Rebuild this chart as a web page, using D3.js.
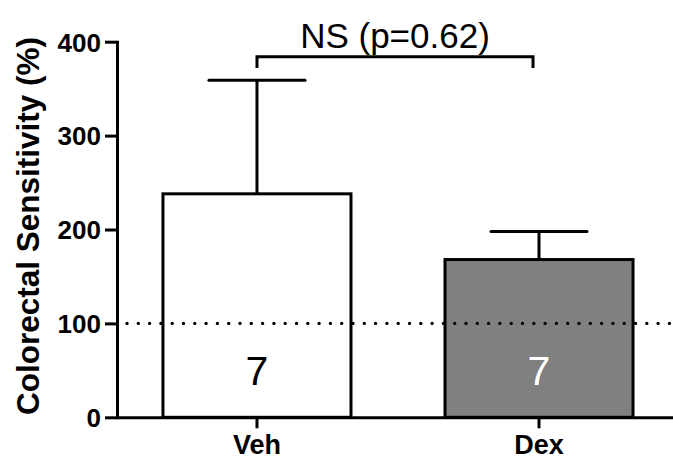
<!DOCTYPE html>
<html>
<head>
<meta charset="utf-8">
<script src="https://cdn.jsdelivr.net/npm/d3@7"></script>
<style>
  html, body { margin: 0; padding: 0; background: #fff; }
  svg { display: block; font-family: "Liberation Sans", Arial, sans-serif; }
</style>
</head>
<body>
<svg id="chart" width="673" height="461"></svg>
<script>
// Group means, SEM and group sizes
const groups = ["Veh", "Dex"];
const means = [238, 168];
const sems = [121, 30];
const counts = [7, 7];
const fills = ["#ffffff", "#808080"];
const countColors = ["#000000", "#ffffff"];
const yTicks = [0, 100, 200, 300, 400];
const baseline = 100;
const compareLabel = "NS (p=0.62)";
const compareLevel = [384, 372];   // bracket bar and leg ends
const yTitle = "Colorectal Sensitivity (%)";

const svg = d3.select("#chart");
const lw = 3;

const y = d3.scaleLinear().domain([0, 400]).range([417.3, 41.7]);
const x = d3.scaleBand().domain(groups).range([117, 679])
  .paddingInner(1 / 3).paddingOuter(0.163);
const cx = g => x(g) + x.bandwidth() / 2;

// Bars
svg.append("g").selectAll("rect").data(groups).join("rect")
  .attr("x", g => x(g))
  .attr("y", (g, i) => y(means[i]))
  .attr("width", x.bandwidth())
  .attr("height", (g, i) => y(0) - y(means[i]))
  .attr("fill", (g, i) => fills[i])
  .attr("stroke", "#000")
  .attr("stroke-width", lw);

// Error bars (upper only)
const eb = svg.append("g").attr("stroke", "#000").attr("stroke-width", lw);
groups.forEach((g, i) => {
  const top = y(means[i] + sems[i]);
  eb.append("line").attr("x1", cx(g)).attr("x2", cx(g))
    .attr("y1", y(means[i])).attr("y2", top);
  eb.append("line").attr("x1", cx(g) - 48).attr("x2", cx(g) + 48)
    .attr("y1", top).attr("y2", top).attr("stroke-linecap", "round");
});

// Reference line at 100%
svg.append("line")
  .attr("x1", 127).attr("x2", 673)
  .attr("y1", y(baseline)).attr("y2", y(baseline))
  .attr("stroke", "#000").attr("stroke-width", 3.4)
  .attr("stroke-linecap", "round")
  .attr("stroke-dasharray", "0 11.3");

// Group sizes inside bars
svg.append("g").selectAll("text").data(groups).join("text")
  .attr("x", g => cx(g))
  .attr("y", 385)
  .attr("text-anchor", "middle")
  .attr("font-size", 41)
  .attr("fill", (g, i) => countColors[i])
  .text((g, i) => counts[i]);

// Y axis
const yAxis = svg.append("g").attr("transform", "translate(117,0)")
  .call(d3.axisLeft(y).tickValues(yTicks).tickSize(12).tickSizeOuter(0).tickPadding(4));
yAxis.select(".domain").attr("stroke-width", lw).attr("stroke-linecap", "square");
yAxis.selectAll(".tick line").attr("stroke-width", lw);
yAxis.selectAll(".tick text")
  .attr("font-family", "Liberation Sans, Arial, sans-serif")
  .attr("font-size", 26).attr("font-weight", "bold").attr("fill", "#000")
  .attr("dy", "0.36em");

// X axis
const xAxis = svg.append("g").attr("transform", `translate(0,${y(0)})`)
  .call(d3.axisBottom(x).tickSize(11).tickSizeOuter(0).tickPadding(7));
xAxis.select(".domain").attr("stroke-width", lw);
xAxis.selectAll(".tick line").attr("stroke-width", lw);
xAxis.selectAll(".tick text")
  .attr("font-family", "Liberation Sans, Arial, sans-serif")
  .attr("font-size", 27).attr("font-weight", "bold").attr("fill", "#000")
  .attr("dy", "0.71em");

// Y axis title
svg.append("text")
  .attr("transform", `translate(38.5,${(42 + 410) / 2}) rotate(-90)`)
  .attr("text-anchor", "middle")
  .attr("font-size", 31.5).attr("font-weight", "bold")
  .text(yTitle);

// Comparison bracket
const bx1 = cx(groups[0]), bx2 = cx(groups[1]) - 6;
svg.append("path")
  .attr("d", `M${bx1},${y(compareLevel[1])}V${y(compareLevel[0])}H${bx2}V${y(compareLevel[1])}`)
  .attr("fill", "none").attr("stroke", "#000").attr("stroke-width", lw);
svg.append("text")
  .attr("x", (bx1 + bx2) / 2).attr("y", 48)
  .attr("text-anchor", "middle")
  .attr("font-size", 35)
  .text(compareLabel);
</script>
</body>
</html>
